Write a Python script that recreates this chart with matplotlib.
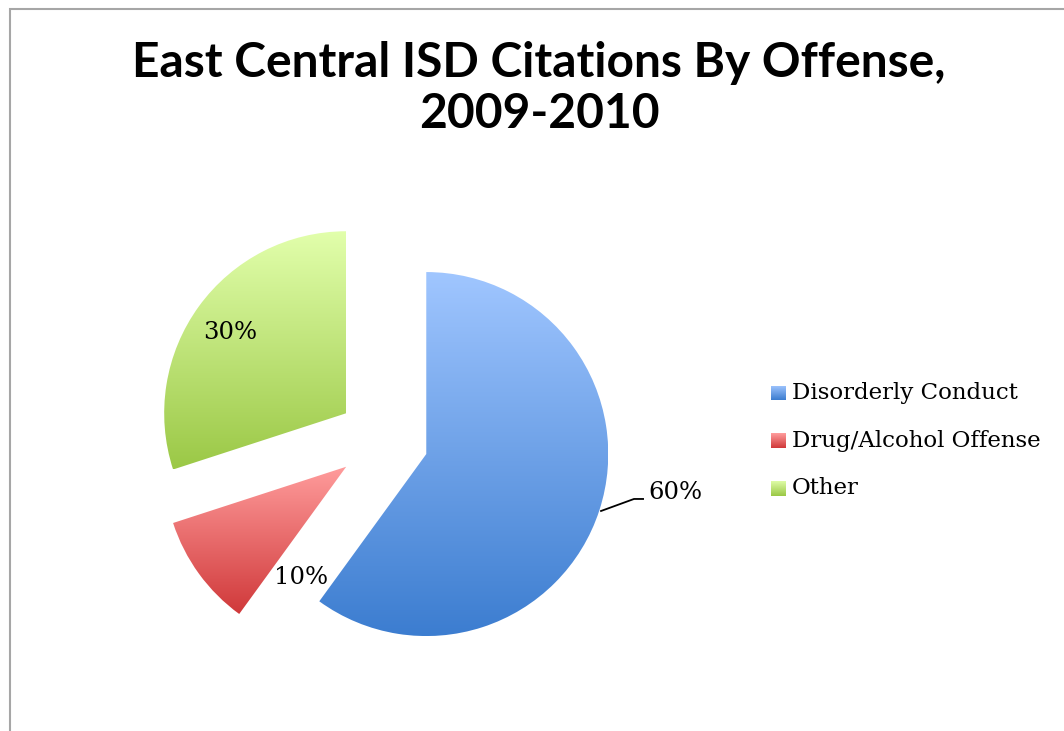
import numpy as np
import matplotlib.pyplot as plt
from matplotlib.patches import Rectangle
from matplotlib.colors import LinearSegmentedColormap

categories = ['Disorderly Conduct', 'Drug/Alcohol Offense', 'Other']
values = [60, 10, 30]
pct_labels = ['60%', '10%', '30%']
top_colors = ['#a0c6ff', '#ff9c9c', '#e2ffac']
bottom_colors = ['#3c7dd0', '#d0393a', '#9bc846']
title_lines = ['East Central ISD Citations By Offense,', '2009-2010']

W, H = 1064, 731
fig = plt.figure(figsize=(W / 100, H / 100), dpi=100)
fig.patch.set_facecolor('white')

# grey frame on left and top edge
fig.patches.append(Rectangle((10 / W, -0.1), 1.2, (H - 9) / H + 0.1, transform=fig.transFigure,
                             fill=False, edgecolor='#a6a6a6', linewidth=1.5))

for line, base in zip(title_lines, [77, 128]):
    fig.text(539 / W, 1 - base / H, line, ha='center', va='baseline',
             fontsize=34.5, fontweight='bold', family='Lato')

# pie axes: centre at pixel (383, 440), radius 182 px
half = 1.5 * 182
ax = fig.add_axes([(383 - half) / W, (H - 440 - half) / H, 2 * half / W, 2 * half / H])
wedges, _ = ax.pie(values, startangle=90, counterclock=False, explode=[0.25] * 3,
                   radius=1.0, wedgeprops=dict(linewidth=0))

for w, c0, c1 in zip(wedges, top_colors, bottom_colors):
    w.set_facecolor('none')
    bb = w.get_path().get_extents(w.get_patch_transform())
    cmap = LinearSegmentedColormap.from_list('g', [c1, c0])
    grad = np.linspace(0, 1, 256).reshape(-1, 1)
    im = ax.imshow(grad, cmap=cmap, origin='lower', aspect='auto',
                   extent=(bb.x0, bb.x1, bb.y0, bb.y1), interpolation='bicubic', zorder=1)
    im.set_clip_path(w)
ax.set_xlim(-1.5, 1.5)
ax.set_ylim(-1.5, 1.5)
ax.axis('off')

pct_font = dict(family='DejaVu Serif', fontsize=17.5, color='black')
ax.plot([1.198, 1.379, 1.429], [-0.390, -0.324, -0.324], color='black', lw=1.3, zorder=3)
ax.text(1.456, -0.291, pct_labels[0], ha='left', va='center', **pct_font)
ax.text(-0.451, -0.753, pct_labels[1], ha='center', va='center', **pct_font)
ax.text(-0.841, 0.588, pct_labels[2], ha='center', va='center', **pct_font)

# legend
lab_font = dict(family='DejaVu Serif', fontsize=16.5, color='black')
for i, (name, c0, c1) in enumerate(zip(categories, top_colors, bottom_colors)):
    yc = 393 + i * 47.5
    sq = fig.add_axes([771 / W, (H - yc - 7.5) / H, 15 / W, 15 / H])
    cmap = LinearSegmentedColormap.from_list('g', [c1, c0])
    sq.imshow(np.linspace(0, 1, 32).reshape(-1, 1), cmap=cmap, origin='lower', aspect='auto')
    sq.axis('off')
    fig.text(792 / W, 1 - yc / H, name, ha='left', va='center', **lab_font)

fig.savefig('out.png', dpi=100)
